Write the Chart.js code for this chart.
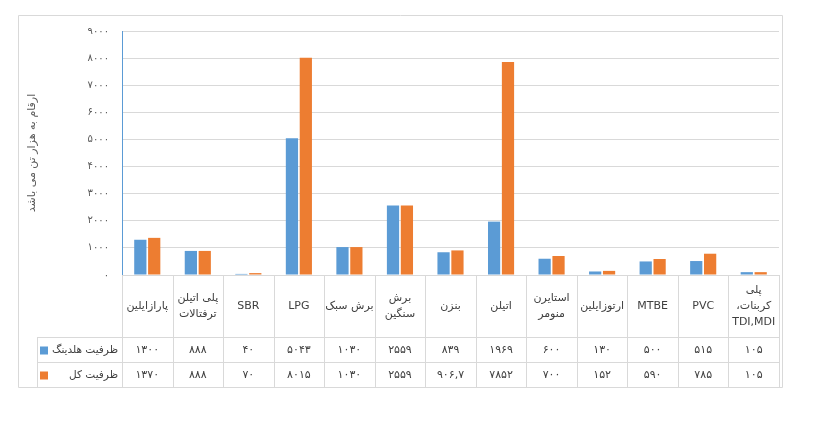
<!DOCTYPE html>
<html lang="fa">
<head>
<meta charset="UTF-8">
<title>ظرفیت تولید</title>
<script src="https://cdn.jsdelivr.net/npm/chart.js"></script>
<style>
  html, body { margin: 0; padding: 0; background: #fff; }
  .chart-box { position: relative; width: 821px; height: 427px; }
</style>
</head>
<body>
<div class="chart-box">
  <canvas id="capacityChart"></canvas>
</div>
<script>
// categories (multi-line ones as arrays)
const categories = [
  'پارازایلین',
  ['پلی اتیلن', 'ترفتالات'],
  'SBR',
  'LPG',
  'برش سبک',
  ['برش', 'سنگین'],
  'بنزن',
  'اتیلن',
  ['استایرن', 'منومر'],
  'ارتوزایلین',
  'MTBE',
  'PVC',
  ['پلی', 'کربنات،', 'TDI,MDI']
];
const seriesNames = ['ظرفیت هلدینگ', 'ظرفیت کل'];
const holdingCapacity = [1300, 888, 40, 5043, 1030, 2559, 839, 1969, 600, 130, 500, 515, 105];
const totalCapacity = [1370, 888, 70, 8015, 1030, 2559, 906.7, 7852, 700, 152, 590, 785, 105];
const yTicks = [0, 1000, 2000, 3000, 4000, 5000, 6000, 7000, 8000, 9000];
const yTitle = 'ارقام به هزار تن می باشد';

const colors = ['#5B9BD5', '#ED7D31'];
const FONT = '"DejaVu Sans", sans-serif';

function toFa(n) {
  const fa = '۰۱۲۳۴۵۶۷۸۹';
  return String(n).replace(/\d/g, d => fa[d]).replace('.', ',');
}

// draws the data table under the plot, like Excel's "data table" option
const dataTable = {
  id: 'dataTable',
  afterDraw(chart) {
    const ctx = chart.ctx;
    const xs = chart.scales.x;
    const area = chart.chartArea;
    const n = categories.length;
    const cw = (area.right - area.left) / n;
    const top = area.bottom;
    const r1 = 337, r2 = 362, bottom = 387;
    const legLeft = 37;

    ctx.save();
    ctx.strokeStyle = '#d9d9d9';
    ctx.lineWidth = 1;
    ctx.beginPath();
    // horizontal lines
    [r1, r2, bottom].forEach(y => {
      ctx.moveTo(legLeft, y + 0.5);
      ctx.lineTo(area.right, y + 0.5);
    });
    // vertical lines
    for (let i = 0; i <= n; i++) {
      const x = Math.round(area.left + i * cw) + 0.5;
      ctx.moveTo(x, top);
      ctx.lineTo(x, bottom);
    }
    ctx.moveTo(legLeft + 0.5, r1);
    ctx.lineTo(legLeft + 0.5, bottom);
    ctx.stroke();

    // outer frame
    ctx.beginPath();
    ctx.rect(18.5, 15.5, 764, 372);
    ctx.stroke();

    ctx.fillStyle = '#404040';
    ctx.direction = 'rtl';
    ctx.textAlign = 'center';
    ctx.textBaseline = 'middle';
    ctx.font = '11px ' + FONT;

    // header row
    categories.forEach((c, i) => {
      const cx = xs.getPixelForValue(i);
      const lines = Array.isArray(c) ? c : [c];
      const lh = 16;
      const y0 = (top + r1) / 2 - (lines.length - 1) * lh / 2;
      lines.forEach((t, k) => ctx.fillText(t, cx, y0 + k * lh));
    });

    // value rows
    [holdingCapacity, totalCapacity].forEach((vals, s) => {
      const cy = s === 0 ? (r1 + r2) / 2 + 1 : (r2 + bottom) / 2 + 1;
      ctx.font = '11px ' + FONT;
      ctx.textAlign = 'center';
      vals.forEach((v, i) => ctx.fillText(toFa(v), xs.getPixelForValue(i), cy));
      ctx.fillStyle = colors[s];
      ctx.fillRect(40, cy - 4, 8, 8);
      ctx.fillStyle = '#404040';
      ctx.font = '10.5px ' + FONT;
      ctx.textAlign = 'right';
      ctx.fillText(seriesNames[s], 118, cy);
    });
    ctx.restore();
  }
};

new Chart(document.getElementById('capacityChart'), {
  type: 'bar',
  data: {
    labels: categories,
    datasets: [
      { label: seriesNames[0], data: holdingCapacity, backgroundColor: colors[0] },
      { label: seriesNames[1], data: totalCapacity, backgroundColor: colors[1] }
    ]
  },
  options: {
    responsive: true,
    maintainAspectRatio: false,
    animation: false,
    events: [],
    layout: { padding: { left: 18, top: 31, right: 42, bottom: 152 } },
    datasets: { bar: { categoryPercentage: 0.55, barPercentage: 0.88 } },
    plugins: { legend: { display: false }, tooltip: { enabled: false } },
    scales: {
      x: {
        ticks: { display: false },
        grid: { display: false },
        border: { display: false },
        afterFit(s) { s.height = 0; }
      },
      y: {
        min: 0,
        max: 9000,
        afterBuildTicks(s) { s.ticks = yTicks.map(v => ({ value: v })); },
        afterFit(s) { s.width = 104; },
        ticks: {
          color: '#595959',
          font: { family: FONT, size: 10 },
          padding: 13,
          callback: v => toFa(v)
        },
        grid: { color: '#d9d9d9', drawTicks: false },
        border: { color: '#5B9BD5' },
        title: {
          display: true,
          text: yTitle,
          color: '#595959',
          font: { family: FONT, size: 11 },
          padding: { top: 8, bottom: 4 }
        }
      }
    }
  },
  plugins: [dataTable]
});
</script>
</body>
</html>
